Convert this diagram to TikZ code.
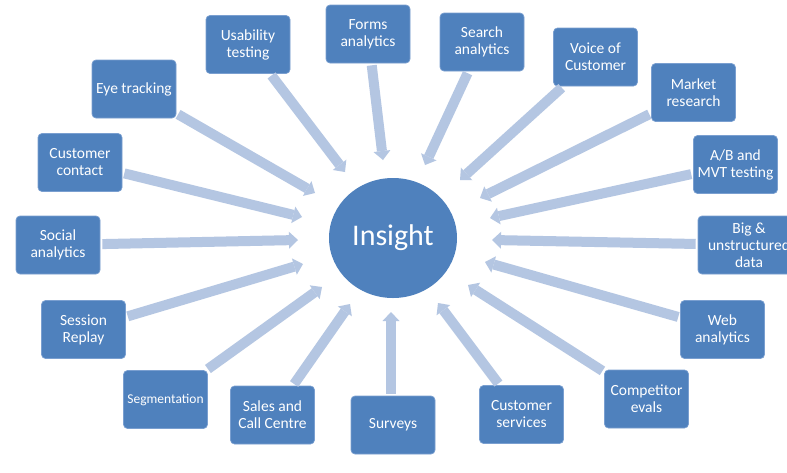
\documentclass[tikz,border=0pt]{standalone}
\usepackage{fontspec}
\setmainfont{Carlito}
\usetikzlibrary{arrows.meta,shapes.geometric}
\definecolor{boxblue}{HTML}{4F81BD}
\definecolor{boxedge}{HTML}{7A9FD0}
\definecolor{arrowblue}{HTML}{B4C6E2}
\begin{document}
\begin{tikzpicture}[x=1pt,y=-1pt,
  box/.style={draw=boxedge, line width=0.7pt, fill=boxblue, rounded corners=4pt, text=white,
    minimum width=84pt, minimum height=58pt, align=center, inner sep=2pt,
    font=\fontsize{15.5}{17}\selectfont},
  hub/.style={ellipse, fill=boxblue, text=white, minimum width=128pt, minimum height=120pt,
    inner sep=0pt, font=\fontsize{30}{34}\selectfont},
  flow/.style={draw=arrowblue, line width=10pt,
    -{Triangle[width=17pt,length=9pt,line width=0pt]}, shorten <=2pt}]
\useasboundingbox (0,0) rectangle (787,472);
\clip (0,0) rectangle (787,472);
\fill[white] (0,0) rectangle (787,472);

% hub
\node[hub] (ins) at (393,238) {Insight};

% boxes
\node[box] (usab) at (248,44.5) {Usability\\testing};
\node[box] (form) at (368,34) {Forms\\analytics};
\node[box] (srch) at (482,42) {Search\\analytics};
\node[box] (voc)  at (595.5,57) {Voice of\\Customer};
\node[box] (mkt)  at (693.5,92.5) {Market\\research};
\node[box] (ab)   at (735.5,164.5) {A/B and\\MVT testing};
\node[box, minimum width=102pt] (big) at (749,245) {Big \&\\unstructured\\data};
\node[box] (web)  at (722.5,329.5) {Web\\analytics};
\node[box] (comp) at (646.5,399) {Competitor\\evals};
\node[box] (csv)  at (521.5,414.5) {Customer\\services};
\node[box] (surv) at (393,425) {Surveys};
\node[box] (sales) at (272.5,415) {Sales and\\Call Centre};
\node[box, font=\fontsize{13.5}{16}\selectfont] (seg) at (165.5,399.5) {Segmentation};
\node[box] (sess) at (83.5,329.5) {Session\\Replay};
\node[box] (soc)  at (58,245) {Social\\analytics};
\node[box] (cc)   at (80,162.5) {Customer\\contact};
\node[box] (eye)  at (134,89) {Eye tracking};

% arrow tips
\coordinate (t-usab) at (345,172);
\coordinate (t-form) at (383,160);
\coordinate (t-srch) at (425,165);
\coordinate (t-voc)  at (460,180);
\coordinate (t-mkt)  at (480,198);
\coordinate (t-ab)   at (490,218);
\coordinate (t-big)  at (492,240);
\coordinate (t-web)  at (485,262);
\coordinate (t-comp) at (468,285);
\coordinate (t-csv)  at (438,303);
\coordinate (t-surv) at (391,312);
\coordinate (t-sales) at (350,304);
\coordinate (t-seg)  at (322,287);
\coordinate (t-sess) at (303,264);
\coordinate (t-soc)  at (298,240);
\coordinate (t-cc)   at (302,217);
\coordinate (t-eye)  at (315,193);

\foreach \n in {usab,form,srch,voc,mkt,ab,big,web,comp,csv,sales,seg,sess,soc,cc,eye}{
  \draw[flow] (\n) -- (t-\n);
}
\draw[flow] (surv.north -| t-surv) -- (t-surv);
\end{tikzpicture}
\end{document}
